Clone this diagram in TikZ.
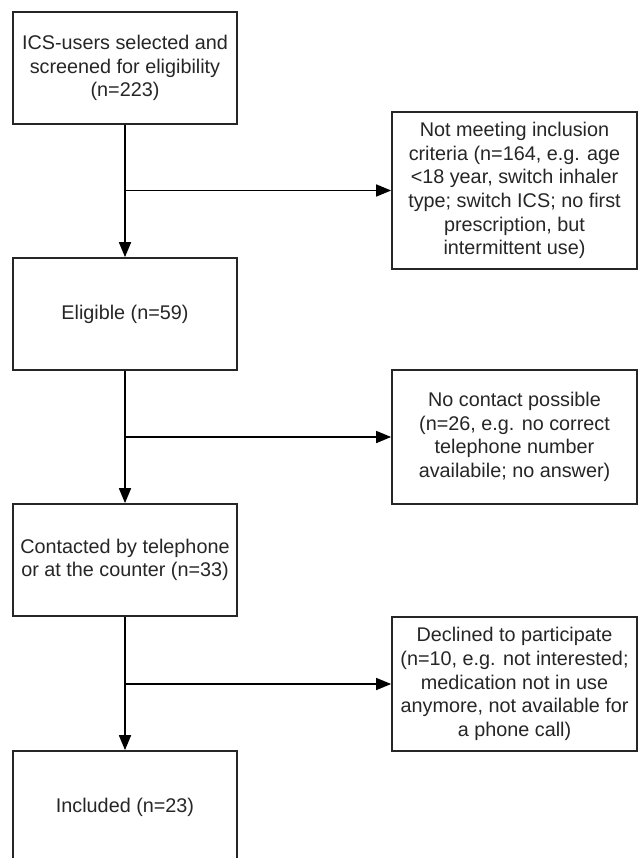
\documentclass[tikz,border=0pt]{standalone}
\usepackage{fontspec}
\setmainfont{Liberation Sans}
\usetikzlibrary{arrows.meta}
\begin{document}
\begin{tikzpicture}[x=1pt,y=-1pt,
  every node/.style={font=\fontsize{19.8}{23.6}\selectfont, text=black!85},
  mainbox/.style={draw=black!85, line width=1.7pt, rectangle, minimum width=224pt, minimum height=112pt, align=center, inner sep=0pt},
  sidebox/.style={draw=black!85, line width=1.7pt, rectangle, minimum width=245pt, align=center, inner sep=0pt},
  flow/.style={draw=black, line width=1.7pt, -{Triangle[width=12pt,length=15pt]}},
  branch/.style={draw=black, line width=1.5pt, -{Triangle[width=12pt,length=15pt]}}]
\useasboundingbox (0,0) rectangle (638,858);
\clip (0,0) rectangle (638,858);
\fill[white] (0,0) rectangle (638,858);

\node[mainbox] (a1) at (125,68) {ICS-users selected and\\screened for eligibility\\(n=223)};
\node[mainbox] (a2) at (125,314) {Eligible (n=59)};
\node[mainbox] (a3) at (125,560) {Contacted by telephone\\or at the counter (n=33)};
\node[mainbox] (a4) at (125,807) {Included (n=23)};

\node[sidebox, minimum height=157pt] (r1) at (514.5,190.5) {Not meeting inclusion\\criteria (n=164, e.g. age\\<18 year, switch inhaler\\type; switch ICS; no first\\prescription, but\\intermittent use)};
\node[sidebox, minimum height=134pt] (r2) at (514.5,437) {No contact possible\\(n=26, e.g. no correct\\telephone number\\availabile; no answer)};
\node[sidebox, minimum height=134pt] (r3) at (514.5,684) {Declined to participate\\(n=10, e.g. not interested;\\medication not in use\\anymore, not available for\\a phone call)};

\draw[flow] (a1) -- (a2);
\draw[flow] (a2) -- (a3);
\draw[flow] (a3) -- (a4);

\coordinate (b1) at (a1 |- r1.west);
\coordinate (b2) at (a2 |- r2.west);
\coordinate (b3) at (a3 |- r3.west);
\draw[branch] (b1) -- (r1.west);
\draw[branch] (b2) -- (r2.west);
\draw[branch] (b3) -- (r3.west);
\end{tikzpicture}
\end{document}
